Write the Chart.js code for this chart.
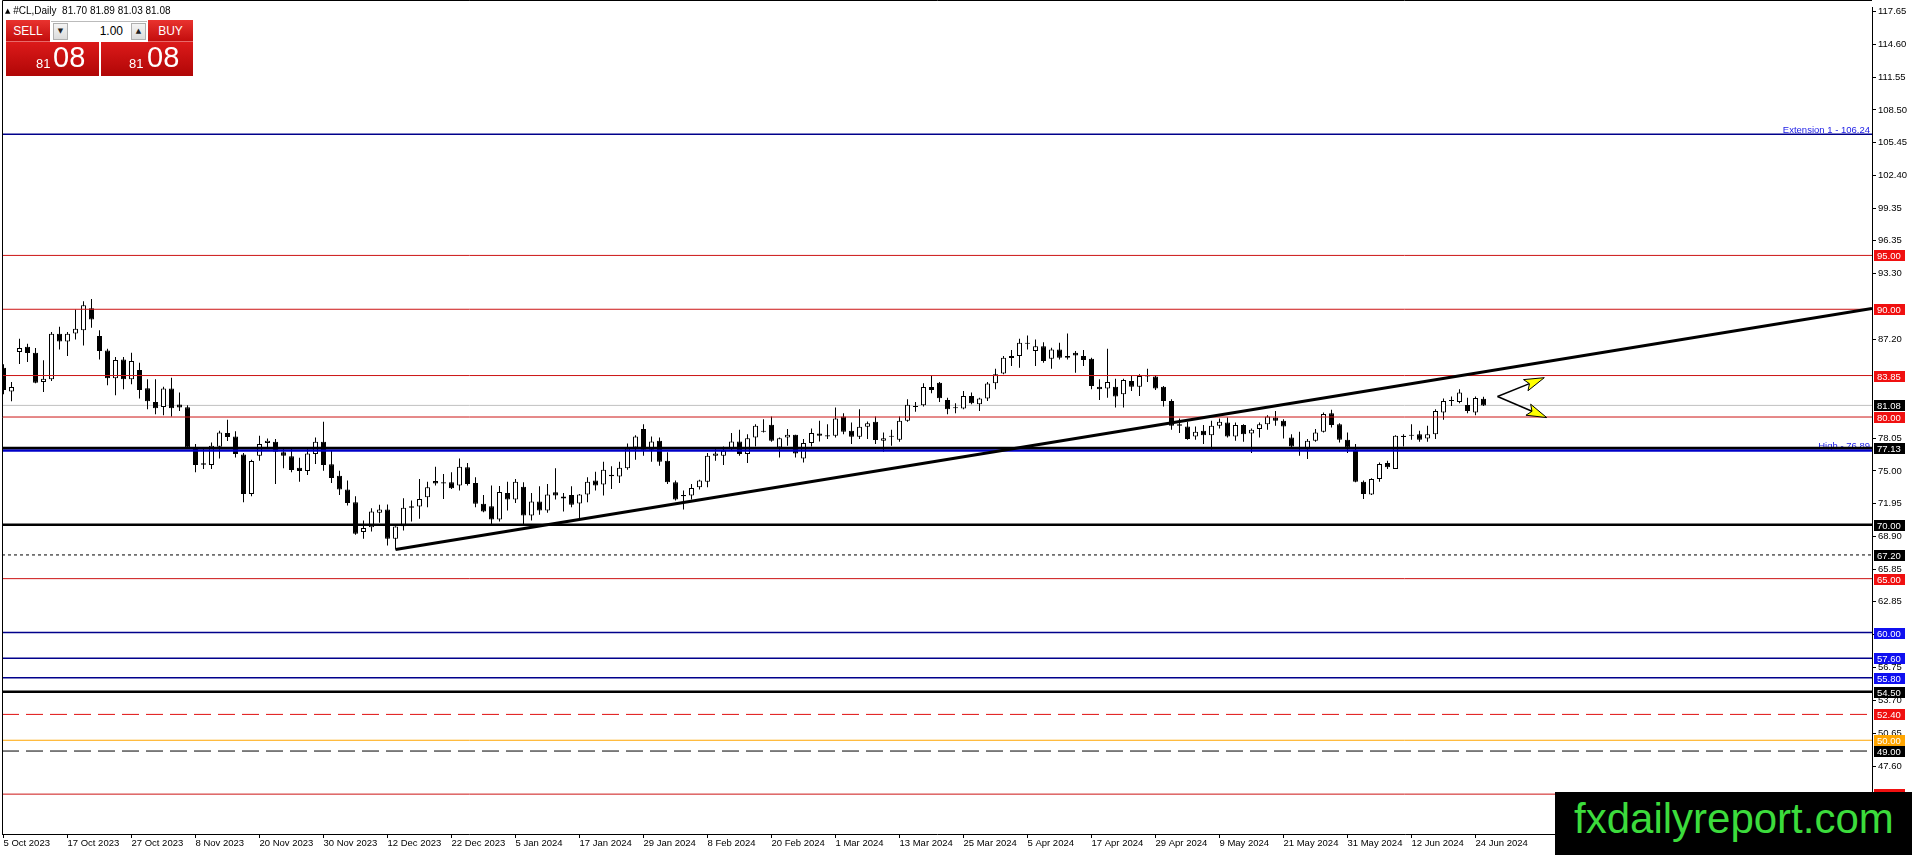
<!DOCTYPE html>
<html>
<head>
<meta charset="utf-8">
<script src="https://cdn.jsdelivr.net/npm/chart.js@4.4.1/dist/chart.umd.min.js"></script>
<style>
html,body{margin:0;padding:0;background:#fff;overflow:hidden}
#wrap{position:relative;width:1912px;height:855px;font-family:'Liberation Sans',Arial,sans-serif}
#c{position:absolute;left:0;top:0;width:1912px;height:855px}
#hdr{position:absolute;left:5px;top:5px;font-size:10px;line-height:12px;color:#000;white-space:pre;z-index:3}
#hdr .tri{font-family:'DejaVu Sans',sans-serif;font-size:7px;vertical-align:1px}
.red{position:absolute;color:#fff;z-index:3}
#sellT,#buyT{top:20px;height:22px;line-height:22px;font-size:12px;text-align:center;background:linear-gradient(#e9332f,#c30d0d);border-bottom:1px solid #e86a6a;box-sizing:border-box}
#sellT{left:6px;width:44px}
#buyT{left:148px;width:45px}
#sellB,#buyB{top:42px;height:34px;background:linear-gradient(#dc1a1a,#b00606)}
#sellB{left:6px;width:93px}
#buyB{left:101px;width:92px}
.s{position:absolute;top:15px;font-size:13px;line-height:13px}
.b{position:absolute;top:1px;font-size:29px;line-height:29px}
#lot{position:absolute;left:51px;top:21px;width:96px;height:20px;background:#fff;border-top:1px solid #bbb;box-sizing:border-box;z-index:3}
.btn{position:absolute;top:1px;width:15px;height:17px;background:linear-gradient(#f4f4f4,#dcdcdc);border:1px solid #b0b0b0;box-sizing:border-box;font-family:'DejaVu Sans',sans-serif;font-size:7px;line-height:15px;text-align:center;color:#222}
#dn{left:2px}
#up{left:80px}
#lotv{position:absolute;right:24px;top:0;font-size:12px;line-height:19px;color:#000}
#wm{position:absolute;left:1555px;top:792px;width:357px;height:63px;background:#000;z-index:3}
#wm span{position:absolute;left:19px;top:5px;font-size:42px;line-height:43px;color:#3cdc3c;white-space:nowrap}
</style>
</head>
<body>
<div id="wrap">
<canvas id="c" width="1912" height="855"></canvas>
<div id="hdr"><span class="tri">▲</span> #CL,Daily  81.70 81.89 81.03 81.08</div>
<div class="red" id="sellT">SELL</div>
<div id="lot"><div class="btn" id="dn">▼</div><div id="lotv">1.00</div><div class="btn" id="up">▲</div></div>
<div class="red" id="buyT">BUY</div>
<div class="red" id="sellB"><span class="s" style="left:30px">81</span><span class="b" style="left:47px">08</span></div>
<div class="red" id="buyB"><span class="s" style="left:28px">81</span><span class="b" style="left:46px">08</span></div>
<div id="wm"><span>fxdailyreport.com</span></div>
</div>
<script>
// ---------- data ----------
const dateLabels = ["5 Oct 2023","17 Oct 2023","27 Oct 2023","8 Nov 2023","20 Nov 2023","30 Nov 2023","12 Dec 2023","22 Dec 2023","5 Jan 2024","17 Jan 2024","29 Jan 2024","8 Feb 2024","20 Feb 2024","1 Mar 2024","13 Mar 2024","25 Mar 2024","5 Apr 2024","17 Apr 2024","29 Apr 2024","9 May 2024","21 May 2024","31 May 2024","12 Jun 2024","24 Jun 2024"];
const dateTickBars = [0,8,16,24,32,40,48,56,64,72,80,88,96,104,112,120,128,136,144,152,160,168,176,184];

const opens = [84.58,82.36,86.03,86.52,85.97,83.25,83.50,87.72,87.01,87.75,88.06,90.10,87.51,86.18,83.59,85.35,83.50,84.36,82.67,81.40,80.94,82.64,81.16,80.91,77.12,75.70,75.55,77.24,78.51,78.20,
76.53,72.86,76.41,77.58,77.70,76.72,76.35,75.30,74.99,76.56,77.70,75.61,74.56,73.27,72.09,69.32,69.78,71.11,71.42,68.70,69.87,71.57,71.69,72.56,74.07,73.94,73.94,73.64,75.33,73.88,
71.94,71.72,70.50,72.96,72.34,73.54,70.86,72.15,71.32,73.02,72.62,72.77,71.97,72.80,74.10,73.73,74.65,74.47,75.24,77.18,78.88,76.96,77.80,75.95,73.94,72.77,72.71,73.48,74.00,76.41,
76.41,77.00,77.73,76.56,78.10,78.72,79.28,77.18,78.10,78.35,76.16,77.58,78.48,78.32,78.26,80.05,78.72,78.17,79.09,79.55,77.80,78.17,77.89,79.65,80.94,81.09,82.79,83.19,81.59,80.88,
80.79,81.96,81.19,81.71,83.13,84.05,85.47,85.66,86.80,86.12,86.58,85.41,86.27,85.66,85.97,85.66,85.41,82.82,82.64,82.82,82.11,83.35,82.82,83.87,83.75,82.82,81.49,79.34,79.12,78.20,
78.72,78.32,79.18,79.49,78.20,79.25,78.48,78.88,79.34,79.96,79.65,78.10,77.09,77.09,77.80,78.63,80.36,79.34,77.89,76.96,74.00,72.80,74.25,75.73,75.18,78.26,78.32,78.41,78.01,78.41,
80.42,81.49,81.40,81.12,80.42,81.70];
const highs = [84.89,83.25,87.26,86.80,86.40,85.26,87.88,88.37,87.88,89.97,90.74,90.96,88.06,86.34,85.57,85.57,85.97,85.04,83.50,83.50,82.82,83.65,82.27,81.10,77.49,77.09,77.64,78.72,79.74,78.69,
76.66,76.04,78.26,78.01,77.95,77.09,77.09,76.22,77.09,78.10,79.55,76.87,75.02,74.10,72.65,70.40,71.54,71.85,71.88,69.87,72.46,72.25,74.25,74.00,75.39,74.71,74.87,76.16,75.73,74.40,
72.77,73.64,73.60,74.00,74.25,73.94,72.96,73.57,73.79,75.24,72.96,73.57,72.86,74.40,74.93,75.85,75.42,75.85,77.55,78.32,79.34,78.20,78.10,76.72,74.10,73.17,73.79,74.19,76.66,77.03,
77.27,78.51,78.81,78.41,79.34,79.80,80.05,78.10,78.88,78.35,77.95,78.94,79.65,79.34,80.88,80.36,79.49,80.73,79.59,80.05,78.57,78.81,80.05,81.65,81.40,83.13,83.87,83.25,81.80,81.28,
82.42,82.27,81.80,83.25,84.49,85.66,86.21,87.26,87.57,87.20,86.95,86.43,86.89,87.75,86.12,86.21,85.50,83.50,86.34,83.56,83.56,83.81,83.96,84.49,83.87,82.88,81.65,79.86,79.55,79.12,
79.25,79.65,79.86,79.96,79.49,79.34,78.94,79.49,80.17,80.57,79.80,78.41,78.63,77.95,78.88,80.42,80.67,79.43,78.57,77.49,74.10,74.31,75.79,75.95,78.32,78.41,79.34,78.72,79.18,80.73,
81.71,81.90,82.57,81.80,81.90,81.89];
const lows = [82.11,81.47,84.92,85.10,83.13,82.33,83.35,86.27,85.66,87.20,86.64,88.28,85.35,82.95,82.02,82.57,83.04,81.71,80.73,80.26,80.17,80.05,80.57,77.03,74.87,75.18,75.18,76.16,77.77,76.25,
72.09,72.65,75.95,77.09,73.79,75.24,74.87,74.00,74.62,75.64,75.02,73.88,72.77,71.78,69.07,68.70,69.38,70.18,68.08,67.71,69.47,70.30,70.55,71.63,73.64,72.40,73.33,73.17,73.64,71.63,
71.17,70.00,70.30,71.32,72.03,70.00,70.40,70.92,71.11,72.34,71.23,71.63,70.55,72.09,73.17,72.71,73.33,73.88,75.11,76.04,76.41,75.85,75.48,73.79,72.25,71.41,72.34,73.27,73.48,75.95,
75.55,76.87,76.41,75.73,77.27,78.57,77.70,76.25,77.33,76.25,75.79,77.27,77.73,77.95,78.10,78.41,77.49,77.95,77.95,77.49,76.78,77.33,77.70,79.55,80.48,80.97,82.20,81.40,80.26,80.36,
80.73,81.19,80.57,81.49,82.57,83.96,84.73,84.58,86.27,84.73,85.04,84.49,85.35,85.35,84.12,84.73,82.57,81.59,81.80,80.88,80.88,82.42,81.96,83.25,82.51,80.97,78.81,78.51,77.89,77.89,
77.49,76.96,78.94,78.10,77.80,77.70,76.66,78.10,78.81,79.18,78.01,77.18,76.41,76.10,77.70,78.57,79.03,77.64,76.66,73.94,72.40,72.77,74.00,75.18,75.18,77.27,77.89,77.70,77.70,77.95,
79.74,81.03,81.28,80.36,80.17,81.03];
const closes = [82.51,82.79,86.40,85.94,83.19,83.56,87.72,87.01,87.72,88.19,90.37,89.05,86.12,83.59,85.29,83.50,85.20,82.51,81.46,80.82,82.64,80.82,80.88,77.18,75.55,75.58,77.33,78.57,78.14,76.56,
72.86,75.92,77.49,77.80,76.78,76.41,75.08,74.99,76.62,77.70,75.55,74.34,73.27,72.03,69.16,69.69,71.23,71.42,68.70,69.84,71.57,71.72,72.40,73.48,73.82,73.82,73.39,75.39,73.79,71.94,
71.23,70.49,73.05,72.34,74.00,70.86,72.15,71.32,72.80,72.71,72.43,71.85,72.80,74.00,73.64,75.11,74.50,75.30,77.09,78.20,76.96,77.73,75.85,73.94,72.34,72.65,73.42,74.10,76.41,76.62,
76.87,77.73,76.56,78.04,79.18,78.63,77.80,78.04,78.35,76.62,77.58,78.51,78.26,78.20,79.86,78.63,78.17,79.09,79.43,77.86,78.04,78.17,79.65,81.13,81.03,82.79,82.51,81.74,80.73,80.82,
81.96,81.28,81.71,83.10,83.96,85.50,85.66,86.89,86.89,86.58,85.20,86.27,85.50,85.50,85.72,85.29,82.88,82.57,83.25,81.90,83.44,82.82,83.81,83.75,82.64,81.49,79.18,79.18,77.95,78.63,
78.32,79.18,79.55,78.20,79.25,78.41,78.81,79.34,80.05,79.65,79.12,77.27,77.00,77.80,78.57,80.27,79.25,77.89,77.18,74.00,72.86,74.25,75.64,75.33,78.26,78.14,78.26,77.89,78.41,80.57,
81.49,81.59,82.27,80.57,81.77,81.08];

const yTickValues = [117.65,114.60,111.55,108.50,105.45,102.40,99.35,96.35,93.30,87.20,78.05,75.00,71.95,68.90,65.85,62.85,59.80,56.75,53.70,50.65,47.60,44.55];

// horizontal levels (prices) and their kinds
const levelPrices = [106.24,95.00,90.00,83.85,81.08,80.00,77.13,76.89,70.00,67.20,65.00,60.00,57.60,55.80,54.50,52.40,50.00,49.00,45.00];
const levelKinds  = ['navy','red','red','red','bid','red','black','blue','black','dotted','red','navy','navy','navy','black','reddash','orange','blackdash','red'];
// price boxes on the right axis
const boxPrices = [95.00,90.00,83.85,81.08,80.00,77.13,70.00,67.20,65.00,60.00,57.60,55.80,54.50,52.40,50.00,49.00,45.00];
const boxKinds  = ['red','red','red','black','red','black','black','black','red','blue','blue','blue','black','red','orange','black','red'];
// level descriptions
const levelTextPrices = [106.24,76.89];
const levelTexts = ['Extension 1 - 106.24','High - 76.89'];
// trend line: bar index / price
const trendBars = [49, 233.5625];
const trendPrices = [67.71, 90.07];
// arrows: from point to two tips (bar index / price)
const arrowFrom = [186.75, 81.90];
const arrowTipBars = [192.6, 192.9];
const arrowTipPrices = [83.65, 79.95];

// ---------- styles ----------
const FONT = "'Liberation Sans', Arial, sans-serif";
const FSIZE = 9.5;
const X_MIN = -0.1875, X_MAX = 233.5625;
const Y_MIN = 41.30, Y_MAX = 117.99;
const STY = {
  navy:{c:'#00008b',w:1.5,d:[]}, red:{c:'#cc1414',w:1,d:[]}, bid:{c:'#c0c0c0',w:1,d:[]},
  black:{c:'#000000',w:2.5,d:[]}, blue:{c:'#0000c8',w:2.5,d:[]}, dotted:{c:'#000000',w:1,d:[3,3]},
  reddash:{c:'#e01010',w:1,d:[17,7]}, orange:{c:'#ffa500',w:1,d:[]}, blackdash:{c:'#000000',w:1,d:[17,7]}
};
const BOXC = {red:'#f01010', black:'#000000', blue:'#1010f0', orange:'#ffa500'};

const idx = opens.map((_, i) => i);

const datasets = [];
datasets.push({
  type:'line', data: trendBars.map((b,i)=>({x:b, y:trendPrices[i]})),
  borderColor:'#000', borderWidth:3, pointRadius:0, order:0
});
levelPrices.forEach((p, i) => {
  const s = STY[levelKinds[i]];
  datasets.push({ type:'line', data:[{x:X_MIN,y:p},{x:X_MAX,y:p}], borderColor:s.c, borderWidth:s.w,
    borderDash:s.d, pointRadius:0, order: levelKinds[i]==='bid' ? 20 : 5 });
});
datasets.push({
  type:'bar', data: idx.map(i=>({x:i, y:[opens[i], closes[i]]})), barThickness:5, grouped:false,
  backgroundColor: idx.map(i=> closes[i] >= opens[i] ? '#ffffff' : '#000000'),
  borderColor:'#000', borderWidth:1, borderSkipped:false, minBarLength:1, inflateAmount:0, order:10
});
datasets.push({
  type:'bar', data: idx.map(i=>({x:i, y:[lows[i], highs[i]]})), barThickness:1, grouped:false,
  backgroundColor:'#000', borderWidth:0, inflateAmount:0, order:11
});

function drawArrow(ctx, x0, y0, x1, y1) {
  const a = Math.atan2(y1-y0, x1-x0);
  const L = 20, W = 6;
  const bx = x1 - L*Math.cos(a), by = y1 - L*Math.sin(a);
  ctx.strokeStyle = '#000'; ctx.lineWidth = 1.5;
  ctx.beginPath(); ctx.moveTo(x0, y0); ctx.lineTo(bx + 4*Math.cos(a), by + 4*Math.sin(a)); ctx.stroke();
  ctx.beginPath(); ctx.moveTo(x1, y1);
  ctx.lineTo(bx - W*Math.sin(a), by + W*Math.cos(a));
  ctx.lineTo(bx + 4*Math.cos(a), by + 4*Math.sin(a));
  ctx.lineTo(bx + W*Math.sin(a), by - W*Math.cos(a));
  ctx.closePath(); ctx.fillStyle = '#ffff00'; ctx.fill(); ctx.lineWidth = 1; ctx.stroke();
}

const overlay = {
  id:'overlay',
  beforeDatasetsDraw(chart) {
    const {ctx, chartArea, scales:{y}} = chart;
    ctx.save();
    ctx.font = FSIZE + 'px ' + FONT; ctx.fillStyle = '#1a1ae6'; ctx.textAlign = 'right'; ctx.textBaseline = 'alphabetic';
    levelTextPrices.forEach((p, i) => ctx.fillText(levelTexts[i], chartArea.right - 2, y.getPixelForValue(p) - 1.5));
    ctx.restore();
  },
  afterDraw(chart) {
    const {ctx, chartArea, scales:{x, y}} = chart;
    ctx.save();
    // frame
    ctx.strokeStyle = '#000'; ctx.lineWidth = 1;
    ctx.beginPath();
    ctx.moveTo(2.5, chartArea.bottom); ctx.lineTo(2.5, 0.5); ctx.lineTo(chartArea.right, 0.5);
    ctx.stroke();
    // price boxes
    ctx.font = FSIZE + 'px ' + FONT; ctx.textAlign = 'left'; ctx.textBaseline = 'middle';
    boxPrices.forEach((p, i) => {
      const py = Math.round(y.getPixelForValue(p));
      ctx.fillStyle = BOXC[boxKinds[i]];
      ctx.fillRect(chartArea.right + 2, py - 5, 31, 11);
      ctx.fillStyle = '#fff';
      ctx.fillText(p.toFixed(2), chartArea.right + 5, py + 1);
    });
    // arrows
    const ax = x.getPixelForValue(arrowFrom[0]), ay = y.getPixelForValue(arrowFrom[1]);
    arrowTipBars.forEach((b, i) => drawArrow(ctx, ax, ay, x.getPixelForValue(b), y.getPixelForValue(arrowTipPrices[i])));
    ctx.restore();
  }
};

new Chart(document.getElementById('c'), {
  type:'bar',
  data:{ datasets },
  options:{
    responsive:false, animation:false, devicePixelRatio:1,
    layout:{ padding:{ left:2, top:0, right:0, bottom:0 } },
    plugins:{ legend:{display:false}, tooltip:{enabled:false} },
    scales:{
      x:{ type:'linear', min:X_MIN, max:X_MAX, offset:false, position:'bottom',
          afterBuildTicks: s => { s.ticks = dateTickBars.map(v => ({value:v})); },
          afterFit: s => { s.height = 21; },
          ticks:{ autoSkip:false, maxRotation:0, minRotation:0, align:'start', padding:0, color:'#000',
                  font:{family:FONT, size:FSIZE}, callback: v => dateLabels[dateTickBars.indexOf(v)] },
          grid:{ drawOnChartArea:false, drawTicks:true, tickLength:4, color:'#000', offset:false },
          border:{ display:true, color:'#000', width:1 } },
      y:{ type:'linear', position:'right', min:Y_MIN, max:Y_MAX,
          afterBuildTicks: s => { s.ticks = yTickValues.map(v => ({value:v})); },
          afterFit: s => { s.width = 40; },
          ticks:{ autoSkip:false, padding:2, color:'#000', font:{family:FONT, size:FSIZE}, callback: v => v.toFixed(2) },
          grid:{ drawOnChartArea:false, drawTicks:true, tickLength:4, color:'#000' },
          border:{ display:true, color:'#000', width:1 } }
    }
  },
  plugins:[overlay]
});
</script>
</body>
</html>
